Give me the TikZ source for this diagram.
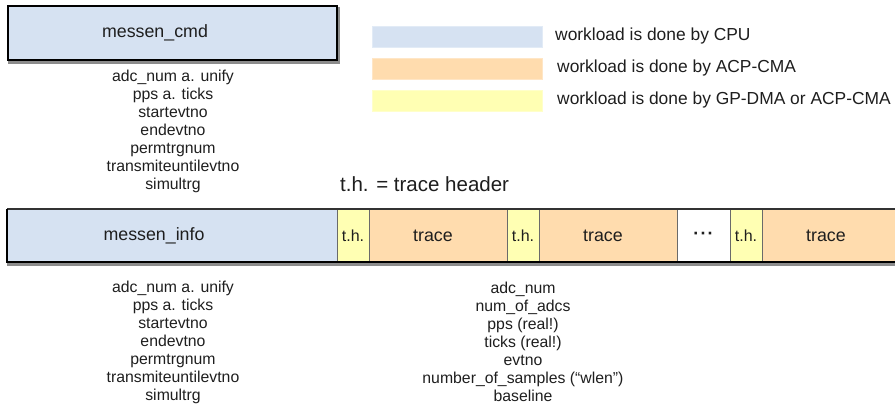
\documentclass[tikz,border=0pt]{standalone}
\usepackage{fontspec}
\setmainfont{Liberation Sans}
\usetikzlibrary{backgrounds}
\definecolor{cpu}{HTML}{D6E2F2}
\definecolor{cma}{HTML}{FFDCAE}
\definecolor{dma}{HTML}{FFFFB3}
\definecolor{txt}{HTML}{1E1E1E}
\definecolor{divgray}{HTML}{6A6A6A}
\tikzset{
  big/.style={font=\fontsize{17.8}{20}\selectfont},
  list/.style={font=\fontsize{15.8}{18}\selectfont, align=center, text=txt},
  cell/.style={draw=divgray, line width=0.9pt, minimum height=53pt, inner sep=0pt, outer sep=0pt, anchor=north west, big, text=txt},
  thcell/.style={cell, fill=dma, minimum width=32pt, font=\fontsize{16}{18}\selectfont},
  trcell/.style={cell, fill=cma, minimum width=138pt},
  legbox/.style={minimum width=170pt, minimum height=21pt, inner sep=0pt, anchor=north west},
  legtext/.style={anchor=west, font=\fontsize{17.4}{20}\selectfont, text=txt, inner sep=0pt},
  mainbox/.style={draw=black, line width=2.2pt, fill=cpu, inner sep=0pt, big, text=txt},
  shadowc/.style={fill=black!45}
}
\begin{document}
\begin{tikzpicture}[x=1pt,y=-1pt]
\useasboundingbox (0,0) rectangle (895,404);

% messen_cmd box
\node[mainbox, minimum width=329pt, minimum height=54pt] (cmd) at (172.5,33) {messen\_cmd\kern35pt};
\begin{scope}[on background layer]
\fill[shadowc] ([shift={(1.5,2.5)}]cmd.south west) rectangle ([shift={(1.5,2.5)}]cmd.north east);
\end{scope}

\node[list] (cmdlist) at (173,131) {adc\_num a. unify\\pps a. ticks\\startevtno\\endevtno\\permtrgnum\\transmiteuntilevtno\\simultrg};

% legend
\node[legbox, fill=cpu, draw=cpu!70!white] (lg1) at (372,26) {};
\node[legbox, fill=cma, draw=cma!70!white] (lg2) at (372,58) {};
\node[legbox, fill=dma, draw=dma!70!white] (lg3) at (372,90) {};
\node[legtext] (lt1) at (555,36.5) {workload is done by CPU};
\node[legtext] (lt2) at (557,68.5) {workload is done by ACP-CMA};
\node[legtext] (lt3) at (557,100) {workload is done by GP-DMA or ACP-CMA};

\node[anchor=west, inner sep=0pt, text=txt, font=\fontsize{20.5}{24}\selectfont] (thdef) at (340,184) {t.h. = trace header};

% strip
\node[cell, fill=cpu, minimum width=330pt] (info) at (7,209) {\raisebox{-2pt}{messen\_info}\kern36pt};
\node[thcell] (th1) at (info.north east) {\raisebox{-2pt}{t.h.}};
\node[trcell] (tr1) at (th1.north east) {\raisebox{-2pt}{trace}\kern10pt};
\node[thcell] (th2) at (tr1.north east) {\raisebox{-2pt}{t.h.}};
\node[trcell] (tr2) at (th2.north east) {\raisebox{-2pt}{trace}\kern10pt};
\node[cell, fill=white, minimum width=53pt] (dots) at (tr2.north east) {\textbf{·\hspace{1.2pt}·\hspace{1.2pt}·}};
\node[thcell] (th3) at (dots.north east) {\raisebox{-2pt}{t.h.}};
\node[trcell, minimum width=140pt] (tr3) at (th3.north east) {\raisebox{-2pt}{trace}\kern12pt};

\begin{scope}[on background layer]
\fill[shadowc] (info.south west) rectangle ([shift={(0,3.5)}]tr3.south east);
\end{scope}
\draw[black!80, line width=1.3pt] (info.north west) -- (tr3.north east);
\draw[black, line width=2.4pt] (info.north west) -- (info.south west) -- (tr3.south east);

\node[list] (infolist) at (173,342) {adc\_num a. unify\\pps a. ticks\\startevtno\\endevtno\\permtrgnum\\transmiteuntilevtno\\simultrg};
\node[list] (thlist) at (523,342) {adc\_num\\num\_of\_adcs\\pps (real!)\\ticks (real!)\\evtno\\number\_of\_samples (“wlen”)\\baseline};
\end{tikzpicture}
\end{document}
